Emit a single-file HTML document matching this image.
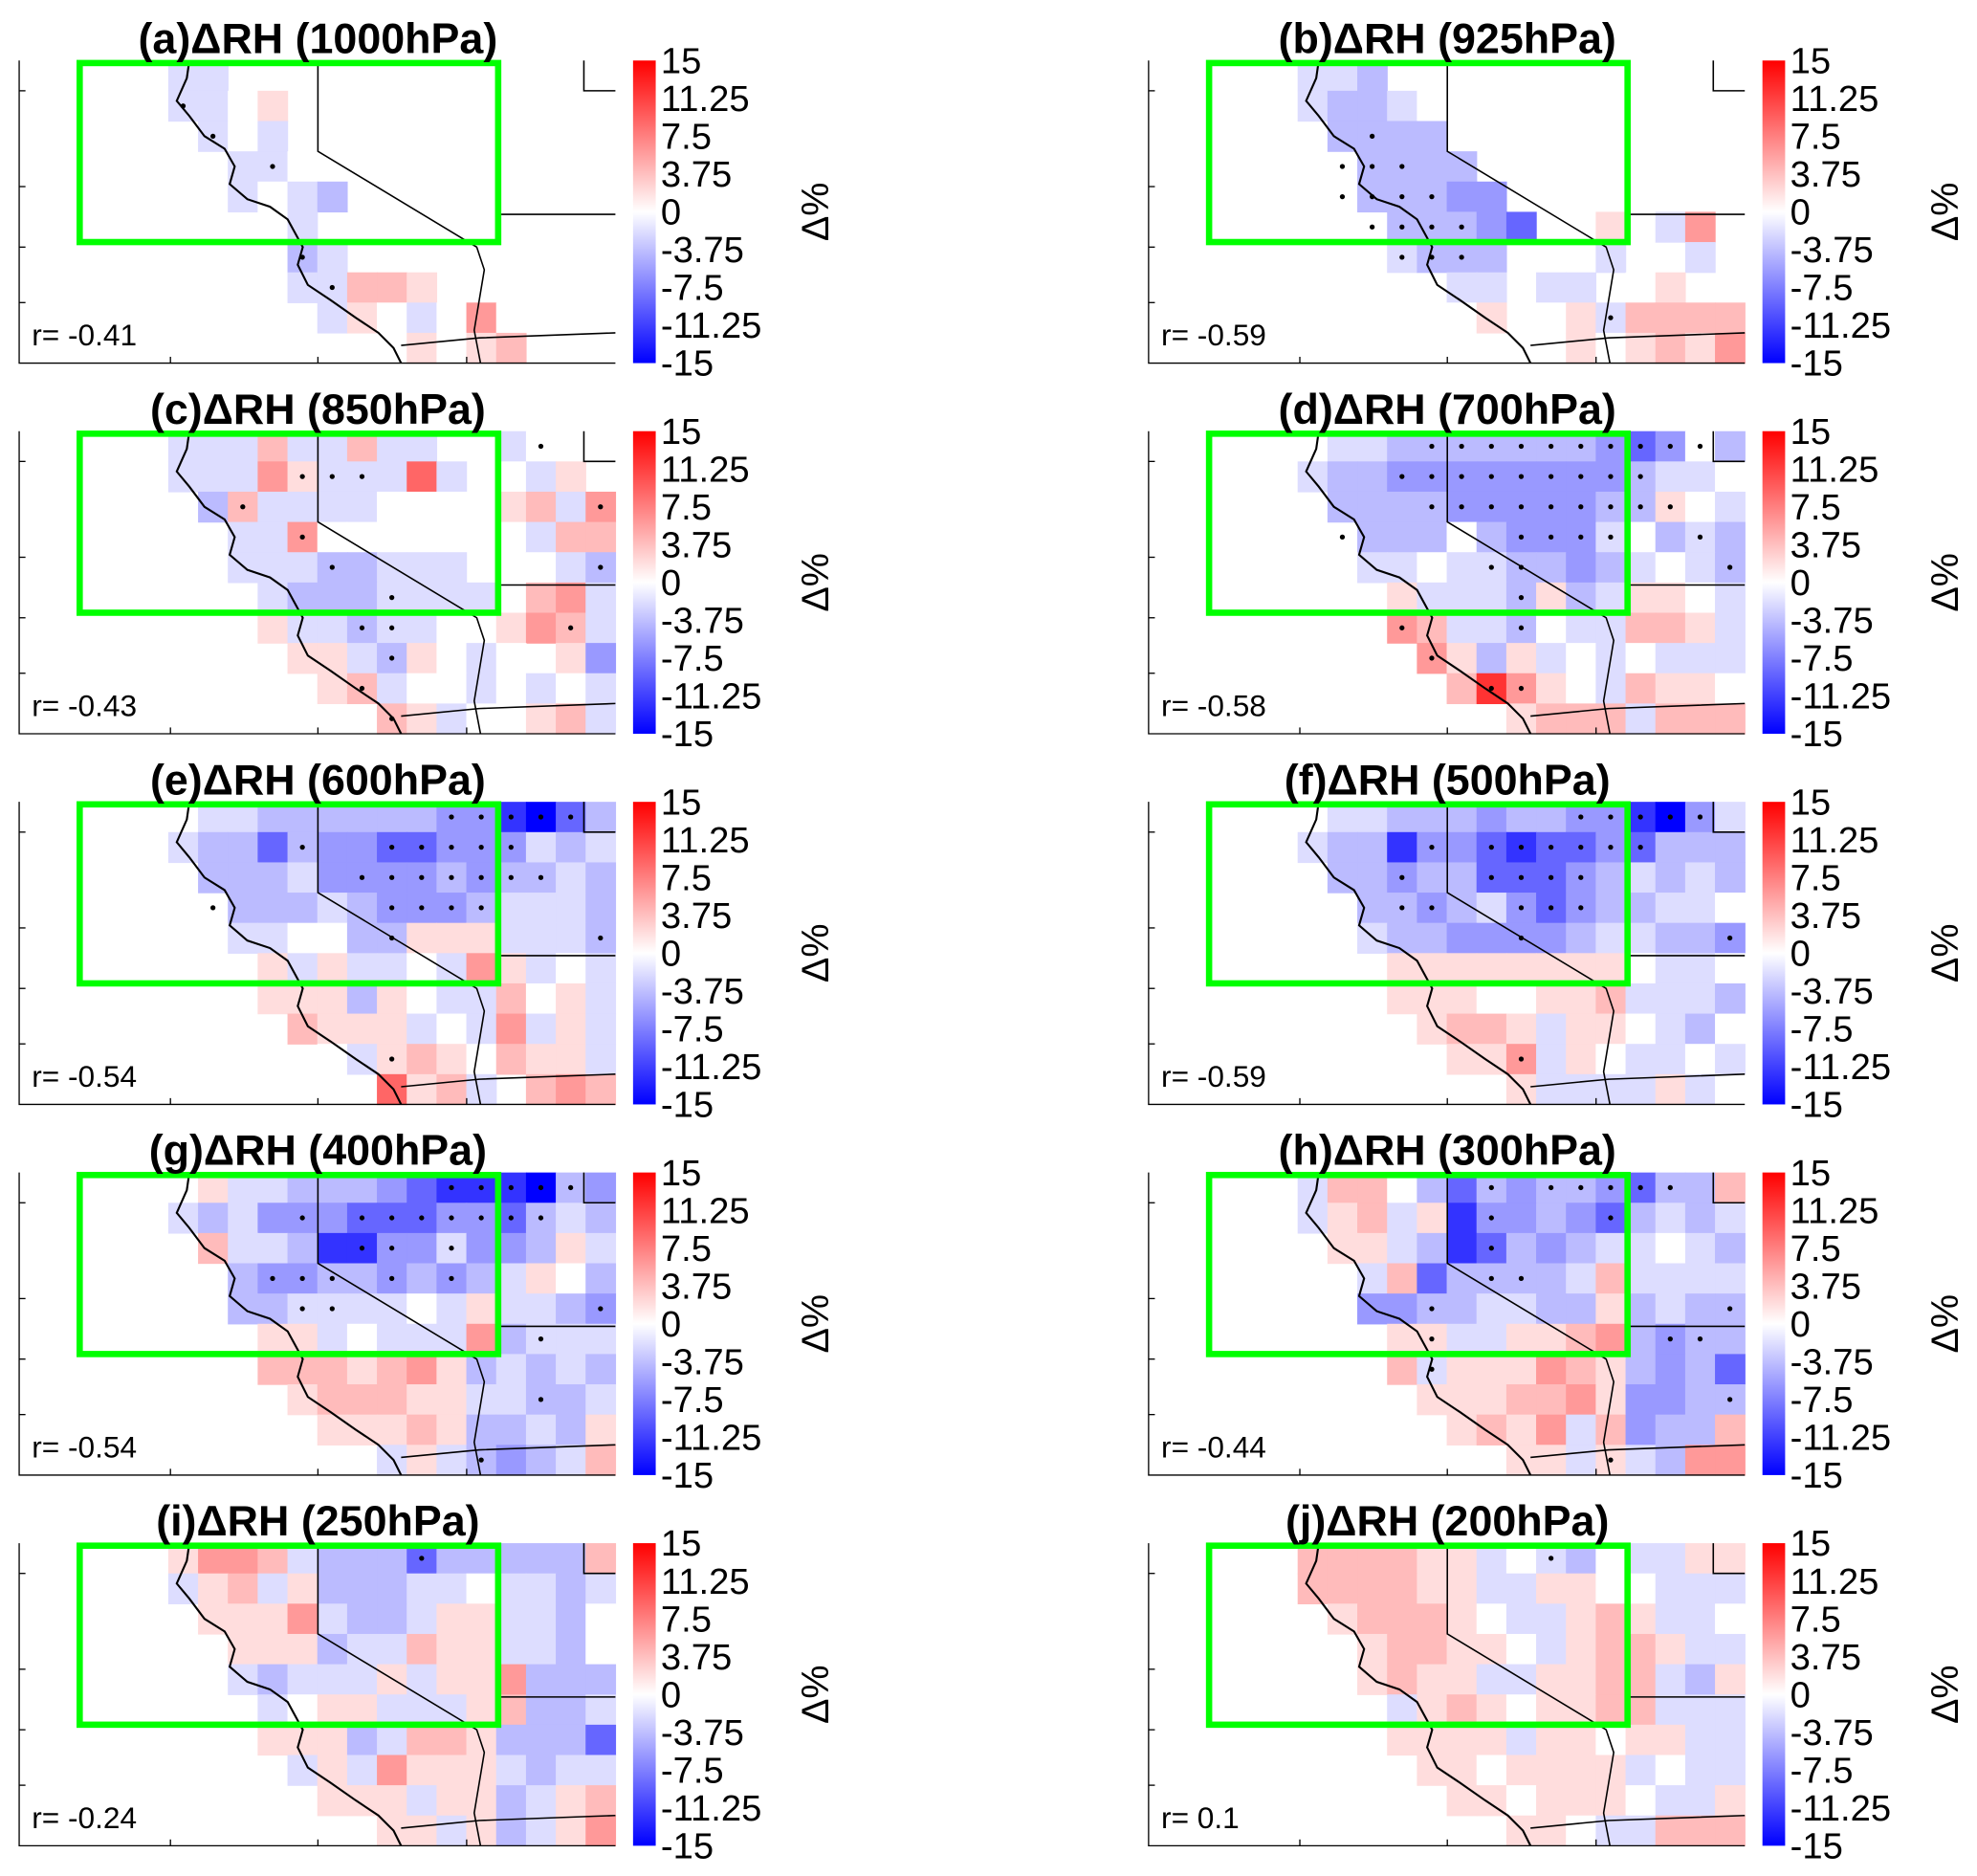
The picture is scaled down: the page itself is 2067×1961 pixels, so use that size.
<!DOCTYPE html>
<html><head><meta charset="utf-8">
<style>
html,body{margin:0;padding:0;background:#fff;}
svg{display:block;font-family:"Liberation Sans",sans-serif;}
</style></head>
<body>
<svg id="fig" width="2067" height="1961" viewBox="0 0 1568 1488" xmlns="http://www.w3.org/2000/svg">
<defs>
<linearGradient id="cbg" x1="0" y1="0" x2="0" y2="1">
<stop offset="0" stop-color="#ff0000"/><stop offset="0.5" stop-color="#ffffff"/><stop offset="1" stop-color="#0000ff"/>
</linearGradient>
</defs>
</svg>
<script>
// ---- data ----
const panelTitles = ["(a)ΔRH (1000hPa)","(b)ΔRH (925hPa)","(c)ΔRH (850hPa)","(d)ΔRH (700hPa)","(e)ΔRH (600hPa)","(f)ΔRH (500hPa)","(g)ΔRH (400hPa)","(h)ΔRH (300hPa)","(i)ΔRH (250hPa)","(j)ΔRH (200hPa)"];
const correlations = ["-0.41","-0.59","-0.43","-0.58","-0.54","-0.59","-0.54","-0.44","-0.24","0.1"];
const colorbarTicks = [15,11.25,7.5,3.75,0,-3.75,-7.5,-11.25,-15];
// grid codes: '.' no data, '0'=0, a..f negative, A..E positive
const codeValues = {"0":0,"a":-2,"b":-4,"c":-6,"d":-9,"e":-12,"f":-15,"A":2,"B":4,"C":6,"D":9,"E":12};
const gridA = [".....aa.............",".....aa0A...........","......a0a...........",".......aa0..........",".......a0ab.........","........0a..........",".........ba.........",".........aaBBA......","..........aA0a0C0...","............0A0AB..."];
const gridB = [".....aab............",".....abba0..........","......bbbb..........",".......bbbb.........",".......bbbcc........","........bbbcd..A.aC.","........abbb...a..a.","..........aa.aa.0A..","..........0A.0AaBBBB","............0.A0ABAC"];
const gridC = [".....aaaBaaBaa..a0..",".....aaaCAaaaDa.0aA.","......bBaaaa0000ABaC",".......aaC0000000aBB",".......aaabbaaa..0ab","........abbbaaaa.BCa","........Aaabaa0.ACBa",".........AAabA0a0.Ac","..........ABa00a0a0a","............BAa0.ABa"];
const gridD = [".....0aabbbbbbbcdc0b",".....abbccccccccbaa0","......bbbbcccccbbA0a",".......bbb0bccca0bab",".......aa0aabbcba0ab","........AaaabAbaAA0a","........CBaab0aaBBAa",".........CAbAa0a0aaa","..........BECA0aBAA0","............ABBBaBBB"];
const gridE = [".....0aabbbbbbccefdb",".....abbdbccddcccaba","......bbbaccccbcbbab",".......bbbabcccbaaab",".......aa00bbAAAaaab","........AaAaa0aCAa0a","........AAAbA0aaB0Aa",".........BAAAa0aCaAa","..........0aABA0BAAa","............DABa.BCB"];
const gridF = [".....0aabbbcbbccefca",".....abbeccdeddcdbbb","......bbcbbdddcbabab",".......bbcbacdcbbaa0",".......abbccccbaabbc","........AAAAAAAA0aa0","........AAA00AABaaab",".........ABBAaAA0ab0","..........AACaA0aa0a","............AaaaaAa0"];
const gridG = [".....0Aaabbbcdeeefbc",".....abacccdddccdbab","......BaabeeccaccbAa",".......bccbbcbcbaA0b",".......bbaaaa0aAaabc","........AAa0aaaCbaaa","........BBBABCAbabab",".........ABBBAAaabba","..........AAABAbbabA","............aAabcbaB"];
const gridH = [".....aBB0bdbcbbcdbbB",".....aABaAeccbcdbaba","......AAabedbcbaa0ab",".......aBdbbbbaBaaaa",".......ccbbaabbAbabb","........AAaaAABCbcbb","........BaAAACBAbcbd",".........AAABBCAccbb","..........ABACaBcbbB","............AAaAabCC"];
const gridI = [".....ACCBabbbdbbbbbB",".....aABaAbbbaa0aaba","......AAACabbaAAaab0",".......AAAbaaBAAaab0",".......abaaaAaAACbbb","........a0AAaaaABbba","........AAAbaBBAbbbd",".........aAaCAAAabaa","..........AAAaAAbaAB","............AAaAbaAC"];
const gridJ = [".....BBBBAAa0ab0aaAA",".....BBBBAAaaAA00aaa","......ABBBA0aaABAaa0",".......ABBAA0aABBAaa",".......ABAAaaAABBabA","........aABA0AABBaaa","........AAAAaAA0AAaa",".........AA0AAAAa0aa","..........AA0AAA0aaA","............AA0aaBBB"];
const dotsA = [[6,2],[8,3],[9,6],[10,7],[5,1]];
const dotsB = [[7,2],[6,3],[7,3],[8,3],[6,4],[7,4],[8,4],[9,4],[7,5],[8,5],[9,5],[10,5],[8,6],[9,6],[10,6],[15,8]];
const dotsC = [[17,0],[9,1],[10,1],[11,1],[19,2],[7,2],[9,3],[10,4],[19,4],[12,5],[11,6],[12,6],[18,6],[12,7],[11,8],[12,9]];
const dotsD = [[9,0],[10,0],[11,0],[12,0],[13,0],[14,0],[15,0],[16,0],[17,0],[18,0],[8,1],[9,1],[10,1],[11,1],[12,1],[13,1],[14,1],[15,1],[16,1],[9,2],[10,2],[11,2],[12,2],[13,2],[14,2],[15,2],[16,2],[17,2],[6,3],[12,3],[13,3],[14,3],[15,3],[18,3],[11,4],[12,4],[19,4],[12,5],[8,6],[12,6],[9,7],[11,8],[12,8]];
const dotsE = [[14,0],[15,0],[16,0],[17,0],[18,0],[9,1],[12,1],[13,1],[14,1],[15,1],[16,1],[11,2],[12,2],[13,2],[14,2],[15,2],[16,2],[17,2],[6,3],[12,3],[13,3],[14,3],[15,3],[12,4],[19,4],[12,8]];
const dotsF = [[14,0],[15,0],[16,0],[17,0],[18,0],[9,1],[11,1],[12,1],[13,1],[14,1],[15,1],[16,1],[8,2],[11,2],[12,2],[13,2],[14,2],[8,3],[9,3],[12,3],[13,3],[14,3],[12,4],[19,4],[12,8]];
const dotsG = [[14,0],[15,0],[16,0],[17,0],[18,0],[9,1],[11,1],[12,1],[13,1],[14,1],[15,1],[16,1],[17,1],[11,2],[12,2],[14,2],[8,3],[9,3],[10,3],[12,3],[14,3],[9,4],[10,4],[19,4],[17,5],[17,7],[15,9]];
const dotsH = [[11,0],[13,0],[14,0],[15,0],[16,0],[17,0],[11,1],[15,1],[11,2],[11,3],[12,3],[9,4],[19,4],[9,5],[17,5],[18,5],[9,6],[19,7],[15,9]];
const dotsI = [[13,0]];
const dotsJ = [[13,0]];
const grids = [gridA,gridB,gridC,gridD,gridE,gridF,gridG,gridH,gridI,gridJ];
const dots = [dotsA,dotsB,dotsC,dotsD,dotsE,dotsF,dotsG,dotsH,dotsI,dotsJ];

// ---- drawing ----
const NS="http://www.w3.org/2000/svg";
const svg=document.getElementById('fig');
const MAPX=15, MAPY=48, MAPW=473, MAPH=240, NC=20, NR=10;
const cw=MAPW/NC, ch=MAPH/NR;
const cbMin=-15, cbMax=15;
function xCol(c){return MAPX+c*cw;}
function yRow(r){return MAPY+r*ch;}
function yCb(v){return MAPY+(cbMax-v)/(cbMax-cbMin)*MAPH;}
function color(v){
  const t=Math.max(-1,Math.min(1,v/15));
  if(t<0){const k=Math.round(255*(1+t));return `rgb(${k},${k},255)`;}
  const k=Math.round(255*(1-t));return `rgb(255,${k},${k})`;
}
function mk(tag,attrs,parent){const e=document.createElementNS(NS,tag);for(const k in attrs)e.setAttribute(k,attrs[k]);(parent||svg).appendChild(e);return e;}

const coast="150,48 148,62 140,80 150,92 162,108 178,118 186,132 182,146 196,158 214,164 228,174 240,196 236,210 244,226 262,238 282,252 300,264 312,276 318,288";
const borders=["252,48 252,120 378,196 384,214 380,238 376,262 381,288","395,170 488,170","463,48 463,72 488,72","318,274 380,268 488,264"];

for(let p=0;p<10;p++){
  const ox=(p%2)*896, oy=Math.floor(p/2)*294;
  const g=mk('g',{transform:`translate(${ox},${oy})`});
  
  
  const grid=grids[p];
  for(let r=0;r<NR;r++){
    for(let c=0;c<NC;c++){
      const ch_=grid[r][c];
      if(ch_==='.'||ch_===undefined)continue;
      const v=codeValues[ch_];
      const rc=mk('rect',{x:xCol(c),y:yRow(r),width:cw+0.5,height:ch+0.5,fill:color(v)},g);
      
      
    }
  }
  const cl=mk('polyline',{points:coast,fill:'none',stroke:'#000','stroke-width':1.6},g);
  
  
  borders.forEach(b=>{const l=mk('polyline',{points:b,fill:'none',stroke:'#000','stroke-width':1.2},g);
    
    });
  dots[p].forEach(d=>{const e=mk('circle',{cx:xCol(d[0])+cw/2,cy:yRow(d[1])+ch/2,r:2,fill:'#000'},g);
    
    });
  const ax=mk('path',{d:`M${MAPX},${MAPY} V${MAPY+MAPH} H${MAPX+MAPW}`,fill:'none',stroke:'#000','stroke-width':1},g);
  
  
  [72,148,196,240].forEach(y=>mk('line',{x1:MAPX,x2:MAPX+5,y1:y,y2:y,stroke:'#000'},g));
  [135,252,370].forEach(x=>mk('line',{x1:x,x2:x,y1:MAPY+MAPH,y2:MAPY+MAPH-5,stroke:'#000'},g));
  const box=mk('rect',{x:63,y:50,width:332,height:142,fill:'none',stroke:'#00ff00','stroke-width':5},g);
  
  
  const t=mk('text',{x:252,y:42,'text-anchor':'middle','font-size':34,'font-weight':'bold'},g);
  t.textContent=panelTitles[p];
  
  
  const rt=mk('text',{x:25,y:274,'font-size':24},g);
  rt.textContent='r= '+correlations[p];
  
  
  const cb=mk('rect',{x:502,y:MAPY,width:18,height:MAPH,fill:'url(#cbg)'},g);
  
  
  colorbarTicks.forEach(v=>{
    const tx=mk('text',{x:524,y:yCb(v)+10,'font-size':29},g);
    tx.textContent=String(v);
    
    
  });
  const dl=mk('text',{x:0,y:0,'font-size':30,'text-anchor':'middle',transform:'translate(657,168) rotate(-90)'},g);
  dl.textContent='Δ%';
  
  
}
</script>
</body></html>
